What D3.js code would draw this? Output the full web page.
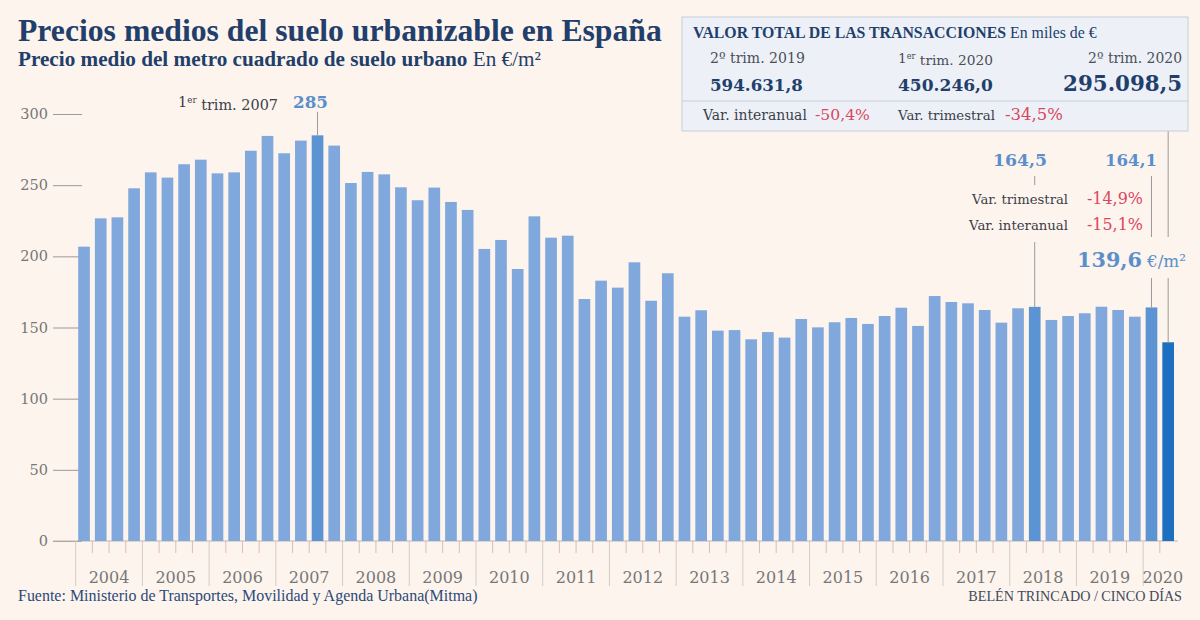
<!DOCTYPE html>
<html><head><meta charset="utf-8">
<script src="https://cdn.jsdelivr.net/npm/d3@7"></script>
<style>html,body{margin:0;padding:0;background:#fdf4ed;} svg{display:block}</style>
</head><body><svg id="c" width="1200" height="620"></svg>
<script>
// ---------- DATA ----------
const years = [2004,2005,2006,2007,2008,2009,2010,2011,2012,2013,2014,2015,2016,2017,2018,2019,2020];
const quarters = ["T1","T2","T3","T4"];
const values = [
  206.8, 226.7, 227.4, 247.8,
  259.0, 255.3, 264.7, 267.9,
  258.3, 259.0, 274.2, 284.6,
  272.4, 281.3, 285.0, 277.8,
  251.5, 259.3, 257.6, 248.5,
  239.4, 248.3, 238.2, 232.6,
  205.2, 211.5, 191.1, 228.1,
  213.1, 214.5, 170.0, 182.9,
  178.0, 195.8, 168.8, 188.1,
  157.6, 162.1, 147.8, 148.2,
  141.7, 146.8, 142.9, 156.0,
  150.1, 153.7, 156.7, 152.5,
  158.1, 163.9, 151.1, 172.1,
  167.9, 167.0, 162.3, 153.4,
  163.5, 164.5, 155.3, 158.1,
  160.0, 164.6, 162.3, 157.6,
  164.1, 139.6
];
const yTicks = [0, 50, 100, 150, 200, 250, 300];
const highlightBars = ["2007-T3", "2018-T2", "2020-T1"];
const currentBar = "2020-T2";
const peakLabel = "285";
const boxHeaders = ["2º trim. 2019", "1er trim. 2020", "2º trim. 2020"];
const boxValues = ["594.631,8", "450.246,0", "295.098,5"];
const boxVars = [["Var. interanual", "-50,4%"], ["Var. trimestral", "-34,5%"]];
const endLabels = ["164,5", "164,1", "139,6"];
const endVars = [["Var. trimestral", "-14,9%"], ["Var. interanual", "-15,1%"]];

// ---------- SETUP ----------
const categories = [];
years.forEach(yr => quarters.forEach(q => categories.push(yr + "-" + q)));
const cats = categories.slice(0, values.length);
const data = cats.map((c, i) => ({cat: c, year: +c.slice(0, 4), value: values[i]}));

const svg = d3.select("#c");
const W = 1200, H = 620;
svg.append("rect").attr("width", W).attr("height", H).attr("fill", "#fdf4ed");

const navy = "#223f6c", blueLbl = "#5b8fcb", red = "#d9475e", grey = "#777", dark = "#3a3f4a";
const SERIF = "'DejaVu Serif', serif";
const TSERIF = "'Liberation Serif', serif";

const x = d3.scaleBand().domain(cats).range([75.7, 1176.5]).paddingInner(0.3).paddingOuter(0.15);
const y = d3.scaleLinear().domain([0, 300]).range([541, 114]);
const bw = x.bandwidth();
const cx = c => x(c) + bw / 2;
const gapL = c => x(c) - x.step() * x.paddingInner() / 2;

// text helper: parts = [{t, weight, fill, sup}]
function txt(g, px, py, parts, o) {
  const t = g.append("text").attr("x", px).attr("y", py)
    .attr("font-family", o.family || SERIF).attr("font-size", o.size || 14)
    .attr("text-anchor", o.anchor || "start").attr("fill", o.fill || dark);
  parts.forEach(p => {
    const s = t.append("tspan").text(p.t);
    if (p.weight) s.attr("font-weight", p.weight);
    if (p.fill) s.attr("fill", p.fill);
    if (p.size) s.attr("font-size", p.size);
    if (p.dy) s.attr("dy", p.dy);
  });
  if (o.width) {
    const fs = +t.attr("font-size");
    const w = t.node().getComputedTextLength();
    if (w > 0) t.attr("font-size", fs * o.width / w);
  }
  return t;
}
// handle "1er" superscript
function trimParts(label) {
  const m = label.match(/^(\d)(er)(.*)$/);
  if (!m) return [{t: label}];
  return [{t: m[1]}, {t: m[2], size: "0.6em", dy: "-0.45em"}, {t: m[3], size: "1em", dy: "0.45em"}];
}

// ---------- TITLES ----------
txt(svg, 18, 41, [{t: "Precios medios del suelo urbanizable en España", weight: "bold"}],
  {family: TSERIF, size: 30, fill: navy, width: 644});
txt(svg, 18, 66, [{t: "Precio medio del metro cuadrado de suelo urbano", weight: "bold"}, {t: " En €/m²"}],
  {family: TSERIF, size: 18, fill: navy, width: 523});

// ---------- Y AXIS ----------
const yAxis = svg.append("g").attr("transform", "translate(82,0)")
  .call(d3.axisLeft(y).tickValues(yTicks).tickSize(29).tickPadding(5));
yAxis.select(".domain").remove();
yAxis.selectAll(".tick line").attr("stroke", "#9a9a9a");
yAxis.selectAll(".tick text").attr("font-family", SERIF).attr("font-size", 14.5).attr("fill", grey);

// baseline
svg.append("line").attr("x1", 53).attr("x2", 1178).attr("y1", y(0)).attr("y2", y(0))
  .attr("stroke", "#bdb6b0");

// ---------- BARS ----------
svg.append("g").selectAll("rect").data(data).join("rect")
  .attr("x", d => x(d.cat)).attr("width", bw)
  .attr("y", d => y(d.value)).attr("height", d => y(0) - y(d.value))
  .attr("fill", d => d.cat === currentBar ? "#1c70bf" : highlightBars.includes(d.cat) ? "#5b93d3" : "#80a8dc");

// ---------- X AXIS ----------
const xg = svg.append("g");
// quarter ticks between bars in a year
data.filter(d => !d.cat.endsWith("T1")).forEach(d => {
  xg.append("line").attr("x1", gapL(d.cat)).attr("x2", gapL(d.cat))
    .attr("y1", y(0)).attr("y2", y(0) + 12).attr("stroke", "#dcbcbc");
});
// year boundaries & labels
years.forEach(yr => {
  const yc = cats.filter(c => +c.slice(0, 4) === yr);
  if (!yc.length) return;
  const x0 = gapL(yc[0]);
  const last = yc[yc.length - 1];
  const x1 = x(last) + bw + x.step() * x.paddingInner() / 2;
  xg.append("line").attr("x1", x0).attr("x2", x0).attr("y1", y(0)).attr("y2", y(0) + 45)
    .attr("stroke", "#d4ccc6");
  const lx = yc.length === 4 ? (x0 + x1) / 2 : (x0 + x1) / 2 + 3;
  txt(xg, lx, 583, [{t: String(yr)}], {size: 16, anchor: "middle", fill: grey});
});

// ---------- ANNOTATIONS ----------
const ann = svg.append("g");
const vline = (xx, y1, y2) => ann.append("line").attr("x1", xx).attr("x2", xx)
  .attr("y1", y1).attr("y2", y2).attr("stroke", "#9a9a9a").attr("stroke-width", 1);

const peakCat = highlightBars[0];
const peakVal = values[cats.indexOf(peakCat)];
vline(cx(peakCat), 112, y(peakVal));
txt(ann, 278, 107, trimParts("1er trim. 2007"), {size: 13.5, anchor: "end", fill: dark, width: 100});
txt(ann, 293, 108, [{t: peakLabel, weight: "bold"}], {size: 19, fill: blueLbl, width: 35});

const c1 = highlightBars[1], c2 = highlightBars[2];
txt(ann, 1047, 166, [{t: endLabels[0], weight: "bold"}], {size: 18, anchor: "end", fill: blueLbl, width: 54});
txt(ann, 1157, 166, [{t: endLabels[1], weight: "bold"}], {size: 18, anchor: "end", fill: blueLbl, width: 52});
vline(cx(c1), 176, 185);
vline(cx(c1), 242, y(values[cats.indexOf(c1)]));
vline(cx(c2), 176, 237);
vline(cx(c2), 278, y(values[cats.indexOf(c2)]));
vline(cx(currentBar), 131, 237);
vline(cx(currentBar), 278, y(values[cats.indexOf(currentBar)]));

txt(ann, 1068, 204, [{t: endVars[0][0]}], {size: 13.5, anchor: "end", fill: dark, width: 96});
txt(ann, 1087, 204, [{t: endVars[0][1]}], {size: 14, fill: red, width: 56});
txt(ann, 1068, 230, [{t: endVars[1][0]}], {size: 13.5, anchor: "end", fill: dark, width: 99});
txt(ann, 1087, 230, [{t: endVars[1][1]}], {size: 14, fill: red, width: 56});
txt(ann, 1142, 267, [{t: endLabels[2], weight: "bold"}], {size: 24, anchor: "end", fill: blueLbl, width: 65});
txt(ann, 1147, 267, [{t: "€/m²"}], {size: 16, fill: blueLbl, width: 39});

// ---------- BOX ----------
const box = svg.append("g");
box.append("rect").attr("x", 682).attr("y", 17).attr("width", 506).attr("height", 114)
  .attr("fill", "#edf1f7").attr("stroke", "#c6cdd9");
box.append("line").attr("x1", 682).attr("x2", 1188).attr("y1", 101).attr("y2", 101).attr("stroke", "#c6cdd9");
txt(box, 693, 38, [{t: "VALOR TOTAL DE LAS TRANSACCIONES", weight: "bold"}, {t: " En miles de €"}],
  {family: TSERIF, size: 15, fill: navy, width: 404});
const colX = [710, 898, 1182];
const colA = ["start", "start", "end"];
const colW = [95, 95, 94];
const valW = [93, 95, 119];
const valS = [20, 20, 26];
boxHeaders.forEach((h, i) => {
  txt(box, colX[i], 63, trimParts(h), {size: 14, anchor: colA[i], fill: "#4a4f58", width: colW[i]});
  txt(box, colX[i], 91, [{t: boxValues[i], weight: "bold"}], {size: valS[i], anchor: colA[i], fill: navy, width: valW[i]});
});
txt(box, 703, 120, [{t: boxVars[0][0]}], {size: 13.5, fill: dark, width: 104});
txt(box, 815, 120, [{t: boxVars[0][1]}], {size: 14, fill: red, width: 55});
txt(box, 898, 120, [{t: boxVars[1][0]}], {size: 13.5, fill: dark, width: 97});
txt(box, 1005, 120, [{t: boxVars[1][1]}], {size: 14, fill: red, width: 58});

// ---------- FOOTER ----------
txt(svg, 18, 601, [{t: "Fuente: Ministerio de Transportes, Movilidad y Agenda Urbana(Mitma)"}],
  {family: TSERIF, size: 14, fill: "#2c4a78", width: 460});
txt(svg, 1182, 601, [{t: "BELÉN TRINCADO / CINCO DÍAS"}],
  {family: TSERIF, size: 13, anchor: "end", fill: "#3e4a5e", width: 214});
</script>
</body></html>
